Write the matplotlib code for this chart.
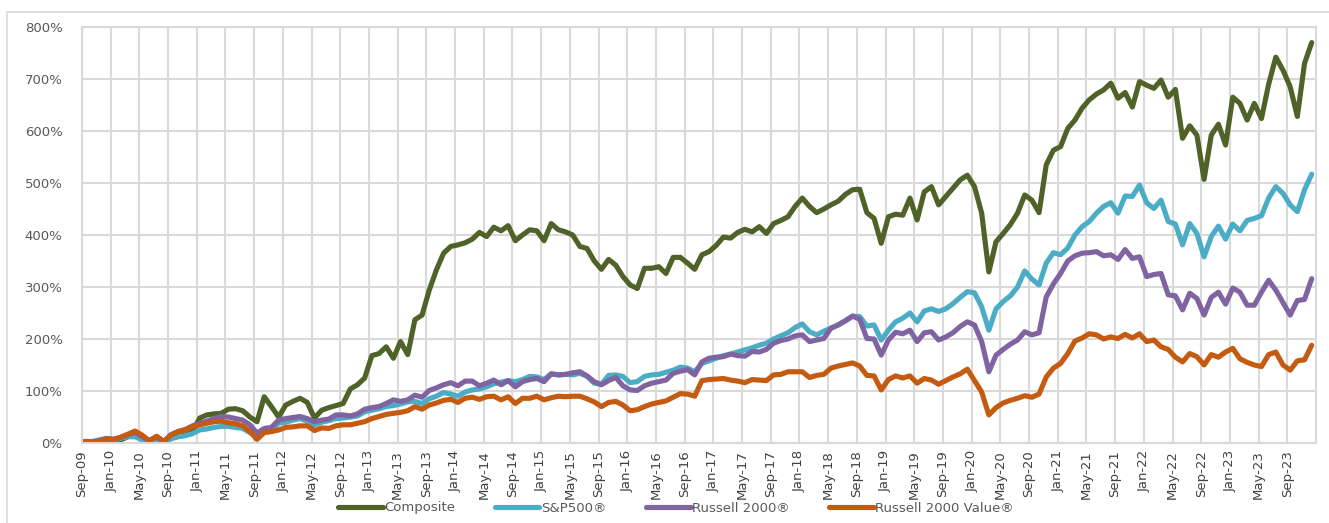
import numpy as np
import matplotlib
matplotlib.use("Agg")
import matplotlib.pyplot as plt
from matplotlib.patches import Rectangle

# monthly cumulative return (%), Sep-09 .. Dec-23
composite = [
    2, 0, 3, 5, 4, 6, 12, 18, 8, 1, 6, 1, 10, 13, 15, 22,
    48, 54, 56, 57, 65, 66, 62, 50, 41, 89, 70, 50, 73, 80, 86, 78,
    48, 63, 68, 72, 76, 104, 112, 125, 168, 172, 185, 163, 195, 170, 237, 246,
    294, 333, 365, 378, 381, 385, 392, 405, 397, 415, 408, 418, 389, 400, 410, 408,
    389, 422, 410, 406, 400, 378, 374, 350, 334, 353, 342, 320, 304, 297, 336, 336,
    339, 326, 357, 357, 346, 334, 362, 368, 380, 396, 394, 405, 411, 406, 416, 403,
    422, 428, 435, 455, 471, 455, 443, 450, 458, 465, 478, 487, 488, 443, 432, 384,
    435, 440, 438, 471, 429, 483, 493, 458, 474, 490, 506, 515, 493, 442, 329, 387,
    403, 420, 442, 477, 467, 443, 535, 563, 570, 605, 621, 644, 660, 671, 679, 692,
    663, 674, 646, 695, 688, 682, 698, 665, 680, 586, 610, 592, 507, 592, 613, 573,
    665, 653, 621, 653, 624, 690, 742, 717, 685, 628, 730, 770,
]
sp500 = [
    3, 3, 6, 9, 6, 9, 12, 12, 6, 0, 5, 1, 8, 12, 14, 18,
    25, 27, 30, 32, 32, 30, 28, 20, 12, 22, 24, 38, 40, 44, 47, 42,
    35, 40, 43, 47, 48, 50, 52, 60, 63, 66, 70, 72, 75, 79, 80, 76,
    85, 90, 97, 94, 90, 98, 102, 104, 108, 114, 117, 120, 118, 122, 128, 127,
    122, 133, 131, 132, 131, 134, 128, 115, 113, 130, 131, 128, 116, 118, 128, 131,
    132, 136, 140, 146, 144, 137, 153, 158, 163, 168, 171, 175, 179, 183, 188, 192,
    200, 206, 212, 222, 229, 214, 208, 215, 221, 227, 235, 244, 243, 225, 227, 198,
    217, 233, 240, 250, 233, 254, 258, 253, 258, 268, 280, 291, 289, 262, 217, 258,
    272, 283, 300, 331, 315, 304, 346, 366, 362, 375, 400, 416, 426, 442, 455, 462,
    442, 475, 474, 496, 462, 451, 467, 426, 421, 381, 422, 403, 358, 397, 417, 392,
    421, 408, 428, 432, 437, 471, 493, 480, 458, 445, 487, 517,
]
russell2000 = [
    3, 2, 4, 8, 7, 11, 16, 20, 12, 5, 12, 3, 16, 22, 26, 33,
    38, 42, 47, 51, 50, 47, 44, 35, 19, 28, 30, 44, 47, 49, 51, 47,
    41, 44, 46, 54, 54, 52, 56, 65, 68, 70, 76, 83, 80, 83, 92, 88,
    101, 106, 112, 116, 110, 119, 119, 110, 115, 121, 112, 120, 108, 118, 122, 124,
    118, 133, 131, 132, 135, 137, 129, 118, 112, 120, 126, 110, 102, 101, 110, 115,
    118, 121, 134, 138, 141, 131, 156, 163, 165, 166, 171, 168, 167, 176, 175, 180,
    192, 197, 200, 206, 208, 195, 198, 201, 221, 227, 235, 244, 238, 201, 200, 169,
    198, 213, 210, 217, 195, 212, 214, 198, 204, 212, 224, 233, 227, 195, 137, 169,
    180, 190, 198, 214, 208, 212, 281, 306, 326, 350, 360, 365, 366, 368, 360, 362,
    353, 372, 355, 358, 320, 324, 326, 285, 283, 256, 288, 278, 246, 280, 290, 267,
    298, 290, 265, 265, 290, 313, 294, 270, 246, 274, 276, 316,
]
russell2000_value = [
    3, 1, 3, 8, 7, 11, 17, 23, 15, 4, 13, 3, 15, 22, 25, 31,
    35, 38, 41, 42, 39, 37, 33, 22, 7, 20, 22, 25, 30, 31, 33, 33,
    24, 29, 28, 33, 35, 35, 38, 41, 47, 51, 55, 57, 59, 62, 70, 65,
    73, 77, 82, 84, 78, 86, 88, 84, 89, 90, 83, 89, 76, 86, 86, 90,
    83, 87, 90, 89, 90, 90, 85, 79, 70, 78, 80, 73, 62, 64, 70, 75,
    78, 81, 88, 95, 94, 90, 120, 122, 123, 124, 121, 119, 116, 122, 121, 120,
    131, 132, 137, 137, 137, 126, 130, 132, 144, 148, 151, 154, 148, 130, 129, 102,
    122, 129, 125, 129, 115, 124, 121, 113, 120, 127, 133, 142, 120, 98, 54, 68,
    77, 82, 86, 91, 88, 94, 127, 144, 153, 172, 196, 202, 210, 208, 200, 204,
    201, 209, 202, 210, 195, 198, 185, 180, 165, 156, 172, 166, 150, 170, 165, 175,
    182, 162, 155, 150, 147, 170, 175, 150, 140, 158, 160, 188,
]

series_names = ["Composite", "S&P500\u00ae", "Russell 2000\u00ae", "Russell 2000 Value\u00ae"]
series_colors = ["#4f6228", "#4bacc6", "#8064a2", "#c55a11"]

months = ["Jan", "Feb", "Mar", "Apr", "May", "Jun", "Jul", "Aug", "Sep", "Oct", "Nov", "Dec"]
n = len(composite)
month_labels = [f"{months[(8 + k) % 12]}-{(2009 + (8 + k) // 12) % 100:02d}" for k in range(n)]
tick_idx = list(range(0, n, 4))

fig = plt.figure(figsize=(13.29, 5.23), dpi=100)
ax = fig.add_axes([82 / 1329, 1 - 443 / 523, (1316 - 82) / 1329, (443 - 27) / 523])

x = np.arange(n) + 0.4
for vals, name, col in zip([composite, sp500, russell2000, russell2000_value], series_names, series_colors):
    ax.plot(x, vals, color=col, lw=3.7, label=name, solid_joinstyle="round", solid_capstyle="round")

ax.set_xlim(0, n)
ax.set_ylim(0, 800)
ax.set_yticks(range(0, 801, 100))
ax.set_yticklabels([f"{v}%" for v in range(0, 801, 100)], color="#595959", fontsize=9.5)
ax.set_xticks(tick_idx)
ax.set_xticklabels([month_labels[k] for k in tick_idx], rotation=90, fontsize=9.5,
                   family=["Liberation Sans Narrow", "DejaVu Sans"], color="#404040")
ax.tick_params(axis="both", length=0)
ax.tick_params(axis="y", pad=14)
ax.tick_params(axis="x", pad=5)
ax.grid(True, color="#d9d9d9", lw=1.5)
ax.set_axisbelow(True)
for s in ax.spines.values():
    s.set_color("#d9d9d9")
    s.set_linewidth(1.5)

leg = fig.legend(loc="center", bbox_to_anchor=(676 / 1329, 1 - 508 / 523), ncol=4,
                 frameon=False, fontsize=9.5, handlelength=3.4, columnspacing=3.0, handletextpad=0.1)
for t in leg.get_texts():
    t.set_color("#595959")

# outer chart border
fig.patches.append(Rectangle((7 / 1329, -0.1), 1.1, 1 - 12 / 523 + 0.1, transform=fig.transFigure,
                             fill=False, edgecolor="#d9d9d9", lw=1.2))

fig.savefig("out.png", dpi=100)
